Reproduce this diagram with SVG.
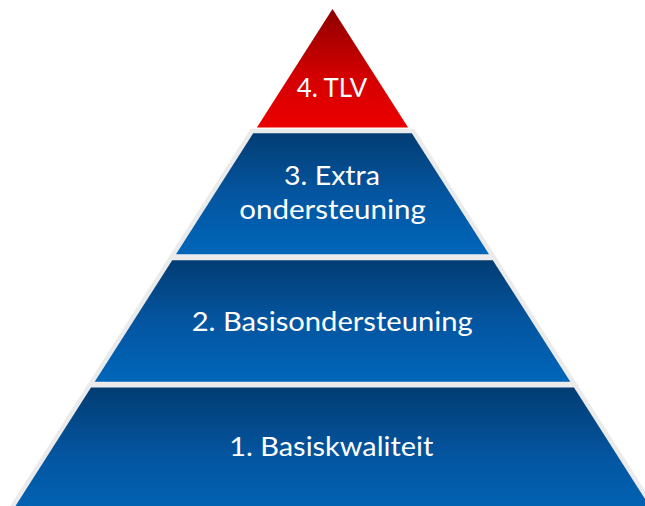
<svg xmlns="http://www.w3.org/2000/svg" width="645" height="506" viewBox="0 0 645 506">
  <defs>
    <linearGradient id="gBlue" x1="0" y1="0" x2="0" y2="1">
      <stop offset="0" stop-color="#023d73"/>
      <stop offset="0.5" stop-color="#0455a0"/>
      <stop offset="1" stop-color="#0066b9"/>
    </linearGradient>
    <linearGradient id="gRed" x1="0" y1="0" x2="0" y2="1">
      <stop offset="0" stop-color="#8e0000"/>
      <stop offset="0.55" stop-color="#d20000"/>
      <stop offset="1" stop-color="#ec0000"/>
    </linearGradient>
    <style>
      .blue { fill: url(#gBlue); stroke: #ebebeb; stroke-width: 9; stroke-linejoin: miter; paint-order: stroke; }
      .red { fill: url(#gRed); }
      .lbl { font-family: Lato, "Open Sans", sans-serif; font-size: 27.5px; fill: #ffffff; text-anchor: middle; }
    </style>
  </defs>
  <rect width="645" height="506" fill="#ffffff"/>
  <g id="tier1">
    <polygon class="blue" points="91,387.5 574,387.5 661,524 4,524"/>
    <text class="lbl" x="331.3" y="455.7" textLength="204" lengthAdjust="spacingAndGlyphs">1. Basiskwaliteit</text>
  </g>
  <g id="tier2">
    <polygon class="blue" points="172.2,260.3 492.8,260.3 570.3,381.7 94.7,381.7"/>
    <text class="lbl" x="332.2" y="330.7" textLength="281" lengthAdjust="spacingAndGlyphs">2. Basisondersteuning</text>
  </g>
  <g id="tier3">
    <polygon class="blue" points="253.2,133.3 411.8,133.3 489,254.3 176,254.3"/>
    <text class="lbl" x="332" y="185" textLength="96" lengthAdjust="spacingAndGlyphs">3. Extra</text>
    <text class="lbl" x="332.6" y="218.7" textLength="186.7" lengthAdjust="spacingAndGlyphs">ondersteuning</text>
  </g>
  <g id="tier4">
    <polygon class="red" points="332.5,9 408.1,127.5 256.9,127.5"/>
    <text class="lbl" x="332" y="96.7" textLength="70.6" lengthAdjust="spacingAndGlyphs">4. TLV</text>
  </g>
</svg>
